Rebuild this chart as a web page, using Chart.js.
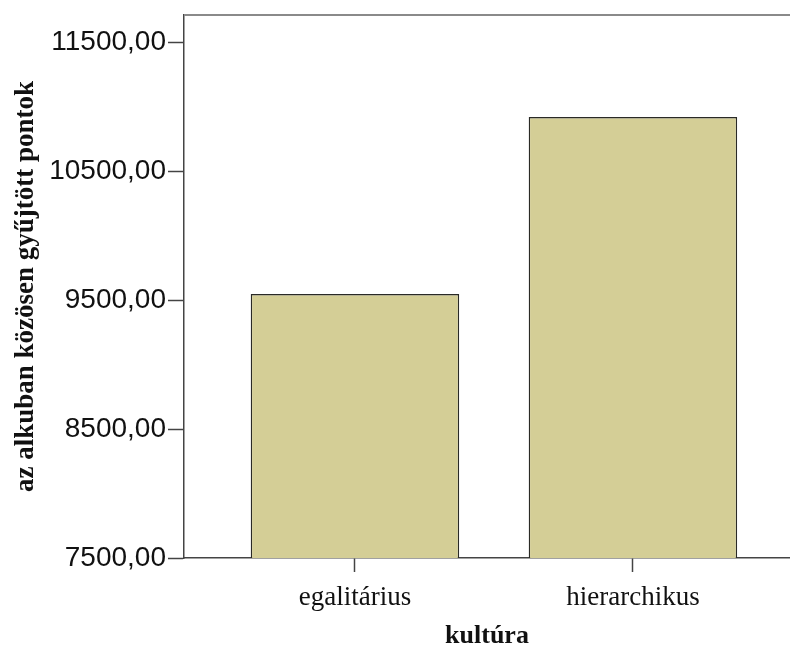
<!DOCTYPE html>
<html>
<head>
<meta charset="utf-8">
<script src="https://cdn.jsdelivr.net/npm/chart.js@4"></script>
<style>
html,body{margin:0;padding:0;background:#fff;overflow:hidden;}
</style>
</head>
<body>
<canvas id="c" width="790" height="646"></canvas>
<script>
const categories = ["egalitárius", "hierarchikus"];
const values = [9546, 10919];
const yTicks = [7500, 8500, 9500, 10500, 11500];
const yTitle = "az alkuban közösen gyűjtött pontok";
const xTitle = "kultúra";

const framePlugin = {
  id: 'frame',
  afterDraw(chart) {
    const {ctx, chartArea} = chart;
    ctx.save();
    ctx.strokeStyle = '#8a8a8a';
    ctx.lineWidth = 2;
    ctx.beginPath();
    ctx.moveTo(chartArea.left, chartArea.top);
    ctx.lineTo(chart.width, chartArea.top);
    ctx.stroke();
    ctx.restore();
  }
};

new Chart(document.getElementById('c'), {
  type: 'bar',
  data: {
    datasets: [{
      data: categories.map((c, i) => ({x: i, y: values[i]})),
      backgroundColor: '#D4CE96',
      borderColor: '#2a2a26',
      borderWidth: 1.4,
      borderSkipped: 'start',
      categoryPercentage: 1,
      barPercentage: 0.75
    }]
  },
  options: {
    responsive: false,
    animation: false,
    devicePixelRatio: 1,
    layout: {padding: {left: 0, right: 0, top: 15, bottom: 0}},
    plugins: {legend: {display: false}, tooltip: {enabled: false}},
    scales: {
      x: {
        type: 'linear',
        offset: false,
        min: -0.615,
        max: 1.565,
        afterBuildTicks: s => { s.ticks = categories.map((c, i) => ({value: i})); },
        afterFit: s => { s.height = 88; s.paddingLeft = 0; s.paddingRight = 0; },
        grid: {offset: false, drawOnChartArea: false, tickLength: 14, tickColor: '#444', tickWidth: 1.5},
        border: {color: '#444', width: 1.5},
        ticks: {
          callback: v => categories[v],
          font: {family: '"Liberation Serif", "Times New Roman", serif', size: 27},
          color: '#111',
          padding: 10,
          maxRotation: 0,
          autoSkip: false
        },
        title: {
          display: true,
          text: xTitle,
          font: {family: '"Liberation Serif", "Times New Roman", serif', size: 26, weight: 'bold'},
          color: '#111',
          padding: {top: 0, bottom: -6}
        }
      },
      y: {
        min: 7500,
        max: 11710,
        afterBuildTicks: s => { s.ticks = yTicks.map(v => ({value: v})); },
        afterFit: s => { s.width = 184; s.paddingTop = 0; s.paddingBottom = 0; },
        grid: {drawOnChartArea: false, tickLength: 16, tickColor: '#444', tickWidth: 1.5},
        border: {color: '#444', width: 1.5},
        ticks: {
          callback: v => v.toFixed(2).replace('.', ','),
          font: {family: '"Liberation Sans", Arial, sans-serif', size: 28},
          color: '#111',
          padding: 2
        },
        title: {
          display: true,
          text: yTitle,
          font: {family: '"Liberation Serif", "Times New Roman", serif', size: 27, weight: 'bold'},
          color: '#111',
          padding: {top: 10, bottom: 0}
        }
      }
    }
  },
  plugins: [framePlugin]
});
</script>
</body>
</html>
